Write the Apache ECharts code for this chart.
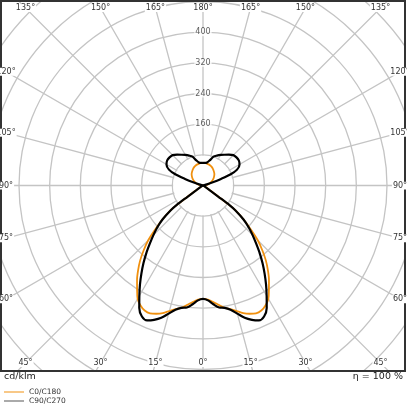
<!DOCTYPE html>
<html>
<head>
<meta charset="utf-8">
<script src="https://cdn.jsdelivr.net/npm/echarts@6/dist/echarts.min.js"></script>
<style>
  html, body { margin: 0; padding: 0; background: #fff; }
  #chart { width: 407px; height: 407px; }
</style>
</head>
<body>
<div id="chart"></div>
<script>
// gamma angles (deg), 0 = straight down, 180 = straight up
var gamma = [0, 2.5, 5, 7.5, 10, 12.5, 15, 17.5, 20, 22.5, 25, 27.5, 30, 32.5, 35, 37.5, 40, 42.5, 45, 47.5,
             50, 52.5, 53.5, 54, 55, 57.5, 60, 70, 80, 90, 100, 105, 108, 110, 112, 115, 120, 125, 130, 135,
             140, 145, 150, 155, 160, 165, 170, 175, 180];

// luminous intensity, cd/klm
var c0c180 = [296, 298, 305, 314, 324, 330, 339, 349, 356, 361, 360, 353, 341, 320, 300, 278, 255, 229, 202, 168,
              139, 106, 86, 50, 22, 9, 5, 2, 1, 0, 10, 15, 18, 20, 22, 25, 29.5, 34, 38, 42,
              45, 48, 51, 53.5, 55.5, 57, 58, 59, 59];
var c90c270 = [296, 300, 311, 321, 324, 332, 346, 362, 373, 381, 377, 360, 332, 306, 280, 255, 230, 205, 183, 162,
               138, 106, 86, 50, 22, 9, 5, 2, 1, 0, 2, 6, 25, 50, 78, 98, 110, 114, 114, 112,
               105, 98, 92, 86, 80, 68, 61, 59, 59];

var seriesNames = ['C0/C180', 'C90/C270'];
var seriesColors = ['#f0900f', '#000'];
var legendColors = ['#f0900f', '#555'];
var radiusLabels = [160, 240, 320, 400];
var angleTicks = [0, 15, 30, 45, 60, 75, 90, 105, 120, 135, 150, 165, 180];

var rMax = 720, rStep = 80;
var CX = 203, CY = 185.5, RPX = 276;
var gridColor = '#c4c4c4';
var textColor = '#333';

// right half (C0 / C90) then left half (C180 / C270), angle measured clockwise from top
function buildCurve(vals) {
    var pts = [];
    for (var i = gamma.length - 1; i >= 0; i--) pts.push([vals[i], 180 - gamma[i]]);
    for (var j = 1; j < gamma.length; j++) pts.push([vals[j], 180 + gamma[j]]);
    return pts;
}

// angle labels sit where each radial line meets a rectangle inset from the frame
function edgeLabels() {
    var out = [];
    var hw = 197, hh = 177.5;
    angleTicks.forEach(function (g) {
        var sides = (g === 0 || g === 180) ? [1] : [1, -1];
        sides.forEach(function (s) {
            var th = (180 - g) * Math.PI / 180;
            var dx = s * Math.sin(th), dy = -Math.cos(th);
            var t = Math.min(Math.abs(dx) > 1e-6 ? hw / Math.abs(dx) : 1e9,
                             Math.abs(dy) > 1e-6 ? hh / Math.abs(dy) : 1e9);
            out.push({
                type: 'text', z: 12, silent: true,
                x: CX + dx * t, y: CY + dy * t,
                style: {
                    text: g + '°', fill: textColor, font: '8px "DejaVu Sans"',
                    align: 'center', verticalAlign: 'middle',
                    backgroundColor: '#fff', padding: [0, 1]
                }
            });
        });
    });
    return out;
}

var myChart = echarts.init(document.getElementById('chart'), null, {renderer: 'canvas'});

var graphics = [
    // hide the radial lines inside the first ring
    {type: 'circle', z: 1, silent: true, shape: {cx: CX, cy: CY, r: RPX * rStep / rMax - 0.8}, style: {fill: '#fff'}},
    // blank out grid below the frame
    {type: 'rect', z: 10, silent: true, shape: {x: 0, y: 372, width: 407, height: 35}, style: {fill: '#fff'}},
    {type: 'rect', z: 10, silent: true, shape: {x: 406, y: 0, width: 1, height: 372}, style: {fill: '#fff'}},
    // frame
    {type: 'rect', z: 11, silent: true, shape: {x: 1, y: 1, width: 404, height: 370}, style: {fill: null, stroke: '#333', lineWidth: 2}}
].concat(edgeLabels());

var option = {
    animation: false,
    backgroundColor: '#fff',
    title: [
        {text: 'cd/klm', left: 4, top: 372, padding: 0, z: 20, textStyle: {fontSize: 9.5, fontWeight: 'normal', color: '#222', fontFamily: 'DejaVu Sans'}},
        {text: 'η = 100 %', right: 4, top: 372, padding: 0, z: 20, textStyle: {fontSize: 9.5, fontWeight: 'normal', color: '#222', fontFamily: 'DejaVu Sans'}}
    ],
    legend: {
        show: true, orient: 'vertical', left: 4, top: 388, padding: 0, z: 20,
        itemWidth: 20, itemHeight: 1, itemGap: 1,
        icon: 'rect',
        textStyle: {fontSize: 7.5, color: textColor, fontFamily: 'DejaVu Sans'},
        data: seriesNames.map(function (n, i) {
            return {name: n, itemStyle: {color: legendColors[i]}};
        })
    },
    polar: {center: [CX, CY], radius: RPX},
    angleAxis: {
        type: 'value', min: 0, max: 360, interval: 15, startAngle: 90, clockwise: true, z: 0,
        axisLine: {show: false}, axisTick: {show: false}, axisLabel: {show: false},
        splitLine: {show: true, lineStyle: {color: gridColor, width: 1.3}}
    },
    radiusAxis: {
        type: 'value', min: 0, max: rMax, interval: rStep, z: 0,
        axisLine: {show: false}, axisTick: {show: false}, axisLabel: {show: false},
        splitLine: {show: true, lineStyle: {color: gridColor, width: 1.3}}
    },
    series: [
        {
            name: seriesNames[0], type: 'line', coordinateSystem: 'polar', z: 3,
            symbol: 'none', smooth: 0.3, color: seriesColors[0],
            lineStyle: {color: seriesColors[0], width: 1.8},
            data: buildCurve(c0c180)
        },
        {
            name: seriesNames[1], type: 'line', coordinateSystem: 'polar', z: 4,
            symbol: 'none', smooth: 0.3, color: seriesColors[1],
            lineStyle: {color: seriesColors[1], width: 2.2},
            data: buildCurve(c90c270)
        },
        {
            // ring values along the 180° line
            type: 'scatter', coordinateSystem: 'polar', z: 5, silent: true,
            symbolSize: 0,
            label: {
                show: true, position: 'inside', color: textColor, fontSize: 8, fontFamily: 'DejaVu Sans',
                backgroundColor: '#fff', padding: [0, 1],
                formatter: function (p) { return p.value[0]; }
            },
            data: radiusLabels.map(function (r) { return [r, 0]; })
        }
    ],
    graphic: graphics
};

myChart.setOption(option);
</script>
</body>
</html>
